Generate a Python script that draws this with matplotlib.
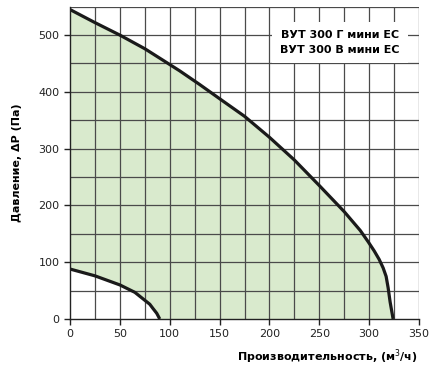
import matplotlib.pyplot as plt
import numpy as np

# кривые
max_q = [0, 25, 50, 75, 93, 110, 130, 150, 175, 200, 225, 250, 275, 291, 299, 305, 310, 314, 317, 319, 321, 323, 324]
max_p = [545, 522, 500, 476, 456, 437, 413, 388, 357, 320, 280, 235, 189, 156, 136, 120, 105, 90, 75, 55, 30, 10, 0]

min_q = [0, 25, 50, 65, 75, 80, 83, 87, 90]
min_p = [88, 76, 60, 47, 33, 26, 19, 10, 0]

model_text = "ВУТ 300 Г мини ЕС\nВУТ 300 В мини ЕС"
xticks = [0, 50, 100, 150, 200, 250, 300, 350]
yticks = [0, 100, 200, 300, 400, 500]

fig = plt.figure(figsize=(4.32, 3.72), dpi=100)
ax = fig.add_axes([0.162, 0.1425, 0.808, 0.8395])

ax.set_xlim(0, 350)
ax.set_ylim(0, 550)

# заливка рабочей зоны
q_grid = np.linspace(0, max(max_q), 400)
upper = np.interp(q_grid, max_q, max_p)
lower = np.interp(q_grid, min_q, min_p, right=0)
ax.fill_between(q_grid, lower, upper, color='#d9eacd', zorder=1, lw=0)

# сетка
for gx in np.arange(25, 351, 25):
    ax.axvline(gx, color='#4a4a4a', lw=0.9, zorder=2)
for gy in np.arange(50, 551, 50):
    ax.axhline(gy, color='#4a4a4a', lw=0.9, zorder=2)

ax.plot(max_q, max_p, color='#1a1a1a', lw=2.3, zorder=4, solid_capstyle='butt')
ax.plot(min_q, min_p, color='#1a1a1a', lw=2.3, zorder=4, solid_capstyle='butt')

ax.text(0.774, 0.885, model_text, transform=ax.transAxes, ha='center', va='center',
        fontsize=8, fontweight='bold', linespacing=1.55, zorder=5,
        bbox=dict(facecolor='white', edgecolor='none', pad=6))

ax.set_xticks(xticks)
ax.set_yticks(yticks)
ax.tick_params(direction='out', length=4, width=1, labelsize=8, colors='#222222')
for s in ['top', 'right']:
    ax.spines[s].set_visible(False)
for s in ['left', 'bottom']:
    ax.spines[s].set_color('#222222')
    ax.spines[s].set_linewidth(1)
    ax.spines[s].set_zorder(6)

ax.set_ylabel('Давление, ΔP (Па)', fontsize=8, fontweight='bold', labelpad=12)
fig.text(0.968, 0.04, 'Производительность, (м$^3$/ч)', ha='right', va='center',
         fontsize=8, fontweight='bold')

fig.savefig('out.png', dpi=100)
